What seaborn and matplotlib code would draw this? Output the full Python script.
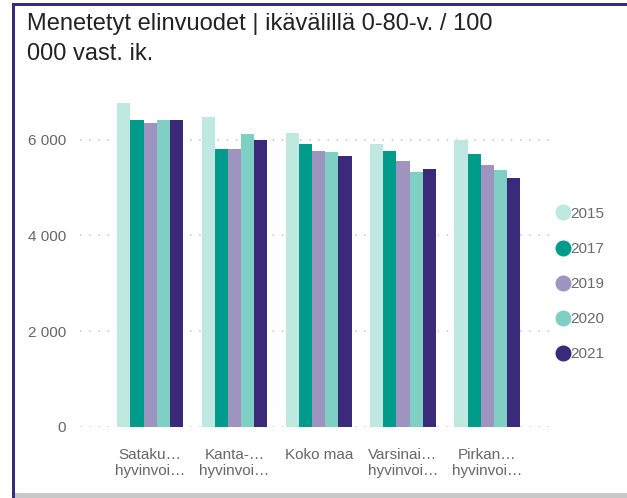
import pandas as pd
import matplotlib.pyplot as plt
import seaborn as sns
from matplotlib.lines import Line2D
from matplotlib.patches import Rectangle

# data
regions = ["Sataku…\nhyvinvoi…", "Kanta-…\nhyvinvoi…", "Koko maa",
           "Varsinai…\nhyvinvoi…", "Pirkan…\nhyvinvoi…"]
years = ["2015", "2017", "2019", "2020", "2021"]
v2015 = [6760, 6470, 6150, 5920, 5990]
v2017 = [6410, 5800, 5900, 5770, 5710]
v2019 = [6350, 5800, 5770, 5550, 5480]
v2020 = [6410, 6120, 5740, 5320, 5360]
v2021 = [6410, 5990, 5670, 5380, 5190]
colors = ["#BFE8E0", "#009B8A", "#9D94BF", "#80CFC4", "#3B2A7A"]

rows = []
for year, vals in zip(years, [v2015, v2017, v2019, v2020, v2021]):
    for reg, v in zip(regions, vals):
        rows.append({"Alue": reg, "Vuosi": year, "Arvo": v})
df = pd.DataFrame(rows)

sns.set_style("white")
plt.rcParams['font.family'] = ['Liberation Sans', 'DejaVu Sans']

fig = plt.figure(figsize=(6.27, 4.98), dpi=100)
ax = fig.add_axes([0.128, 0.1426, 0.754, 0.673])

sns.barplot(data=df, x="Alue", y="Arvo", hue="Vuosi", hue_order=years,
            palette=colors, width=0.78, linewidth=0, saturation=1,
            ax=ax, legend=False)

ax.set_ylim(0, 7000)
ax.set_xlim(-0.83, 4.78)
ax.set_yticks([0, 2000, 4000, 6000])
ax.set_yticklabels(["0", "2 000", "4 000", "6 000"])
for y in [0, 2000, 4000, 6000]:
    ax.axhline(y, color="#c4c4c4", linestyle=(0, (1, 5)), linewidth=1.1, zorder=0)
ax.set_xlabel("")
ax.set_ylabel("")
for s in ax.spines.values():
    s.set_visible(False)
ax.tick_params(axis="y", colors="#666666", labelsize=11, pad=10, length=0)
ax.tick_params(axis="x", colors="#666666", labelsize=11, pad=15, length=0)

handles = [Line2D([], [], marker="o", linestyle="", markersize=10.5,
                  markerfacecolor=c, markeredgecolor=c) for c in colors]
leg = fig.legend(handles, years, loc="upper left", bbox_to_anchor=(0.878, 0.597),
                 frameon=False, handlelength=0.8, handletextpad=0.1,
                 labelspacing=1.38, fontsize=11, borderaxespad=0)
for t in leg.get_texts():
    t.set_color("#6a6a6a")

fig.text(0.043, 0.974, "Menetetyt elinvuodet | ikävälillä 0-80-v. / 100\n000 vast. ik.",
         ha="left", va="top", fontsize=17, color="#222222", linespacing=1.5)

# card frame
fig.add_artist(Rectangle((12 / 627, 0), 3 / 627, 1 - 3 / 498, transform=fig.transFigure,
                         color="#3B2A7A", lw=0))
fig.add_artist(Rectangle((12 / 627, 1 - 6 / 498), 1, 3 / 498, transform=fig.transFigure,
                         color="#3B2A7A", lw=0))
fig.add_artist(Rectangle((15 / 627, 0), 1, 5 / 498, transform=fig.transFigure,
                         color="#c8c8c8", lw=0))

fig.savefig("out.png", dpi=100)
